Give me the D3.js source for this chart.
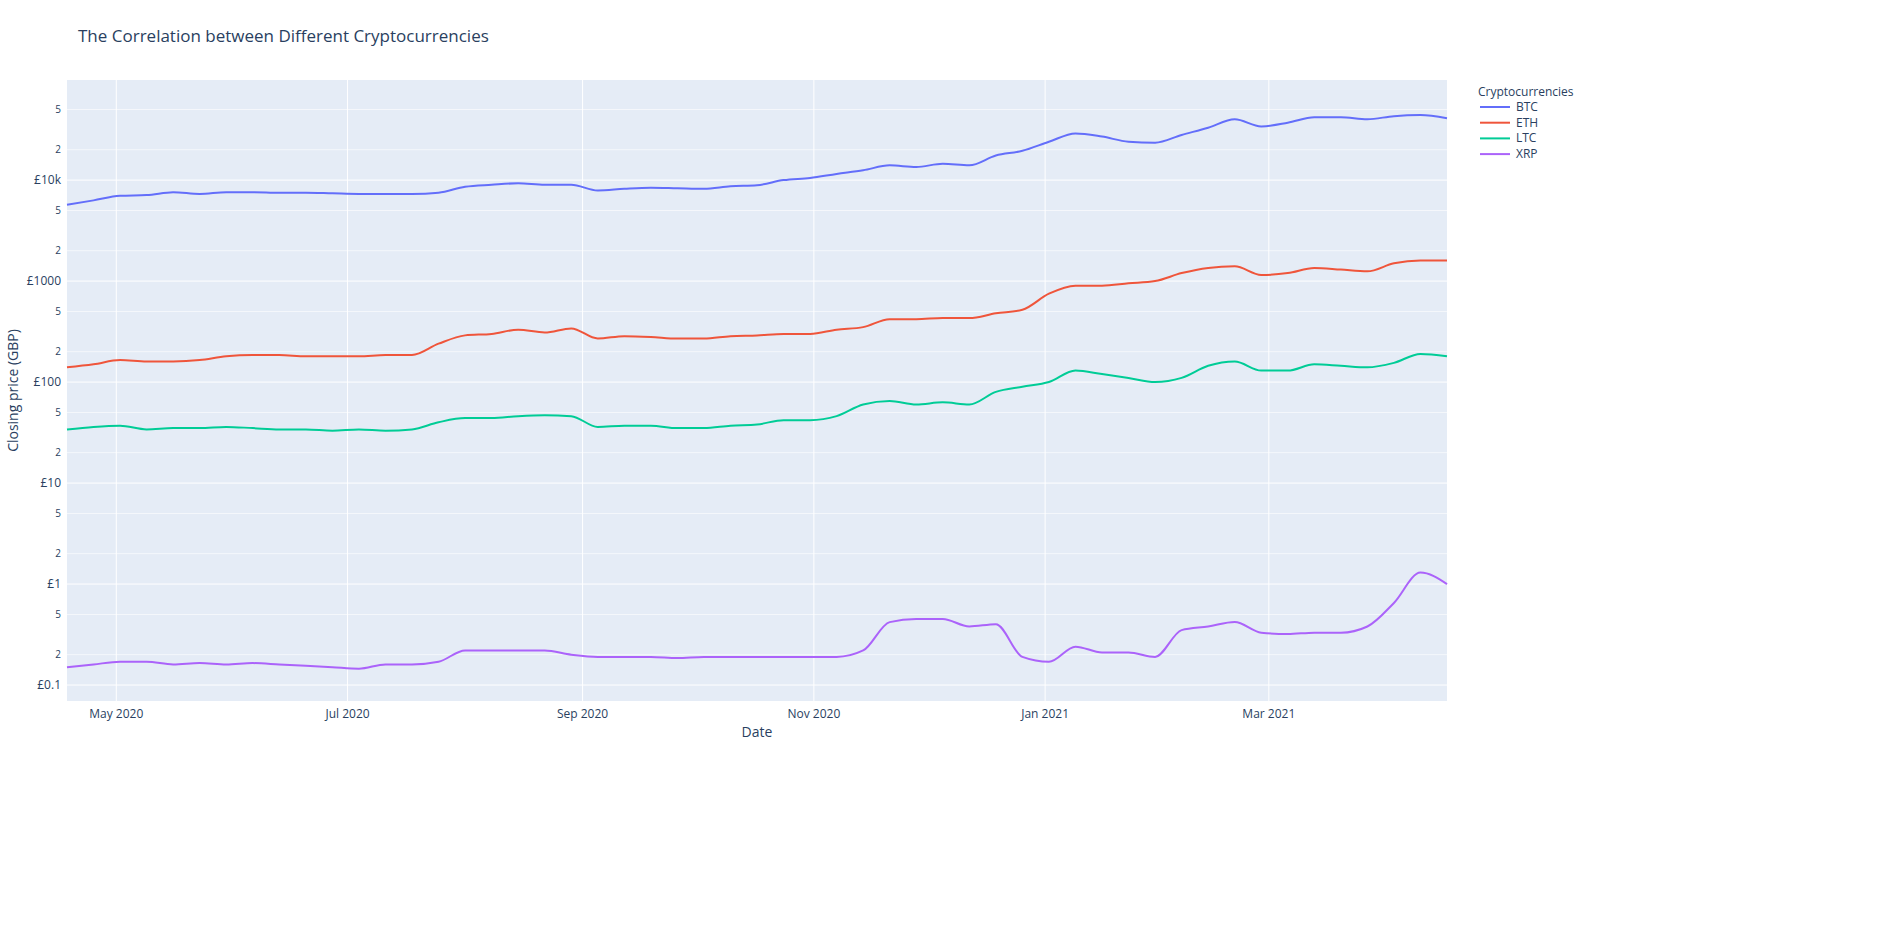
<!DOCTYPE html>
<html><head><meta charset="utf-8">
<script src="https://cdn.jsdelivr.net/npm/d3@7"></script>
<style>body{margin:0;background:#fff;font-family:"Open Sans",sans-serif}</style>
</head><body><svg id="c" width="1904" height="931"></svg>
<script>
const startDate = "2020-04-18";
const seriesNames = ["BTC","ETH","LTC","XRP"];
const seriesColors = ["#636efa","#EF553B","#00cc96","#ab63fa"];
const btc = [5700,6300,7000,7100,7600,7300,7600,7600,7500,7500,7400,7300,7300,7300,7500,8600,9000,9300,9000,9000,7900,8200,8400,8300,8200,8700,8900,10000,10500,11500,12500,14000,13500,14500,14000,17500,19500,24000,29000,27000,24000,23500,28000,33000,40000,34000,37000,42000,42000,40000,43000,44000,41000];
const eth = [140,150,165,160,160,165,180,185,185,180,180,180,185,185,240,290,300,330,310,340,270,285,280,270,270,285,290,300,300,330,350,420,420,430,430,480,520,750,900,900,950,1000,1200,1350,1400,1150,1200,1350,1300,1250,1500,1600,1600];
const ltc = [34,36,37,34,35,35,36,35,34,34,33,34,33,34,40,44,44,46,47,46,36,37,37,35,35,37,38,42,42,46,60,65,60,63,60,80,90,100,130,120,110,100,110,145,160,130,130,150,145,140,155,190,180];
const xrp = [0.15,0.16,0.17,0.17,0.16,0.165,0.16,0.165,0.16,0.155,0.15,0.145,0.16,0.16,0.17,0.22,0.22,0.22,0.22,0.20,0.19,0.19,0.19,0.185,0.19,0.19,0.19,0.19,0.19,0.19,0.22,0.42,0.45,0.45,0.38,0.40,0.19,0.17,0.24,0.21,0.21,0.19,0.35,0.38,0.42,0.33,0.32,0.33,0.33,0.38,0.65,1.3,1.0];
const majorTicks = [0.1,1,10,100,1000,10000];
const majorLabels = ["£0.1","£1","£10","£100","£1000","£10k"];
const xTickDates = ["2020-05-01","2020-07-01","2020-09-01","2020-11-01","2021-01-01","2021-03-01"];
const xTickLabels = ["May 2020","Jul 2020","Sep 2020","Nov 2020","Jan 2021","Mar 2021"];

const svg = d3.select("#c");
const L=67,R=1447,T=80,B=701;
const d0 = new Date(startDate+"T00:00:00");
const dates = btc.map((_,i)=>d3.timeDay.offset(d0,i*7));
const x = d3.scaleTime().domain([d0, d3.timeDay.offset(d0,364)]).range([L,R]);
const y = d3.scaleLog().domain([0.0695, 98000]).range([B,T]);
svg.append("rect").attr("x",L).attr("y",T).attr("width",R-L).attr("height",B-T).attr("fill","#e5ecf6");
const g = svg.append("g");
const minor=[];
majorTicks.forEach(t=>{[2,5].forEach(m=>{const v=t*m; if(v<98000) minor.push(v);});});
minor.forEach(v=>{
  g.append("line").attr("x1",L).attr("x2",R).attr("y1",y(v)).attr("y2",y(v)).attr("stroke","#fff").attr("stroke-width",0.6);
  g.append("text").attr("x",L-6).attr("y",y(v)+3.5).attr("text-anchor","end").attr("font-size",10).attr("fill","#2a3f5f").text(String(v).replace(/^0\.|0+$/g,"").replace(/^0*/,"")[0]);
});
majorTicks.forEach((v,i)=>{
  g.append("line").attr("x1",L).attr("x2",R).attr("y1",y(v)).attr("y2",y(v)).attr("stroke","#fff").attr("stroke-width",1);
  g.append("text").attr("x",L-6).attr("y",y(v)+4).attr("text-anchor","end").attr("font-size",12).attr("fill","#2a3f5f").text(majorLabels[i]);
});
xTickDates.forEach((s,i)=>{
  const xx=x(new Date(s+"T00:00:00"));
  g.append("line").attr("x1",xx).attr("x2",xx).attr("y1",T).attr("y2",B).attr("stroke","#fff").attr("stroke-width",1);
  g.append("text").attr("x",xx).attr("y",B+17).attr("text-anchor","middle").attr("font-size",12).attr("fill","#2a3f5f").text(xTickLabels[i]);
});
const line = d3.line().x((d,i)=>x(dates[i])).y(d=>y(d)).curve(d3.curveMonotoneX);
[btc,eth,ltc,xrp].forEach((s,i)=>{
  g.append("path").attr("d",line(s)).attr("fill","none").attr("stroke",seriesColors[i]).attr("stroke-width",2);
});
svg.append("text").attr("x",78).attr("y",42).attr("font-size",17).attr("fill","#2a3f5f").text("The Correlation between Different Cryptocurrencies");
svg.append("text").attr("x",757).attr("y",737).attr("text-anchor","middle").attr("font-size",14).attr("fill","#2a3f5f").text("Date");
svg.append("text").attr("transform",`translate(18,${(T+B)/2}) rotate(-90)`).attr("text-anchor","middle").attr("font-size",14).attr("fill","#2a3f5f").text("Closing price (GBP)");
svg.append("text").attr("x",1478).attr("y",96).attr("font-size",12).attr("fill","#2a3f5f").text("Cryptocurrencies");
seriesNames.forEach((n,i)=>{
  const yy=107+i*15.7;
  svg.append("line").attr("x1",1480).attr("x2",1510).attr("y1",yy).attr("y2",yy).attr("stroke",seriesColors[i]).attr("stroke-width",2);
  svg.append("text").attr("x",1516).attr("y",yy+4).attr("font-size",12).attr("fill","#2a3f5f").text(n);
});
</script></body></html>
